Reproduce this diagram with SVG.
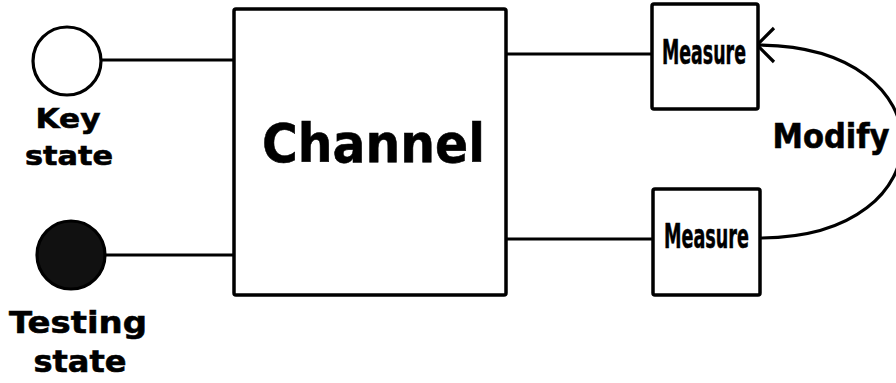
<svg xmlns="http://www.w3.org/2000/svg" width="896" height="383" viewBox="0 0 896 383">
<style>
.box{fill:#fff;stroke:#000;stroke-width:3.5;stroke-linejoin:round}
.ln{fill:none;stroke:#000;stroke-width:3.2}
.lbl{font-family:"DejaVu Sans","Liberation Sans",sans-serif;font-weight:bold;fill:#000;text-anchor:middle;stroke:#000;stroke-width:0.6}
.ms{font-family:"DejaVu Sans Condensed","Liberation Sans Narrow","DejaVu Sans",sans-serif;font-weight:bold;font-size:34px;fill:#000;stroke:#000;stroke-width:0.5}
</style>
<defs>
<marker id="chev" viewBox="0 0 20 40" refX="19" refY="20" markerWidth="20" markerHeight="40" markerUnits="userSpaceOnUse" orient="auto">
<path d="M2 3 L19 20 L2 37" fill="none" stroke="#000" stroke-width="3.2"/>
</marker>
</defs>
<g id="connectors">
<line class="ln" x1="101" y1="60" x2="234" y2="60"/>
<line class="ln" x1="106" y1="255" x2="234" y2="255"/>
<line class="ln" x1="506" y1="54" x2="652" y2="54"/>
<line class="ln" x1="506" y1="239" x2="653" y2="239"/>
<path class="ln" d="M760 238 C950 238, 950 45, 757 45" marker-end="url(#chev)"/>
</g>
<g id="key-state">
<circle cx="67" cy="61" r="34" fill="#fff" stroke="#000" stroke-width="3.2"/>
<text class="lbl" x="68" y="128" font-size="27" textLength="65" lengthAdjust="spacingAndGlyphs">Key</text>
<text class="lbl" x="69" y="165" font-size="27" textLength="88" lengthAdjust="spacingAndGlyphs">state</text>
</g>
<g id="testing-state">
<circle cx="71" cy="255" r="34" fill="#111" stroke="#000" stroke-width="3.2"/>
<text class="lbl" x="78" y="333" font-size="31" textLength="138" lengthAdjust="spacingAndGlyphs">Testing</text>
<text class="lbl" x="80" y="372" font-size="31" textLength="93" lengthAdjust="spacingAndGlyphs">state</text>
</g>
<g id="channel">
<rect class="box" x="234" y="9" width="272" height="286" rx="2"/>
<text class="lbl" x="373.5" y="162" font-size="54" textLength="223" lengthAdjust="spacingAndGlyphs">Channel</text>
</g>
<g id="measure-top">
<rect class="box" x="652" y="4" width="106" height="105" rx="2"/>
<text class="ms" x="662" y="64" textLength="84" lengthAdjust="spacingAndGlyphs">Measure</text>
</g>
<g id="measure-bottom">
<rect class="box" x="653" y="189" width="107" height="106" rx="2"/>
<text class="ms" x="664" y="248" textLength="85" lengthAdjust="spacingAndGlyphs">Measure</text>
</g>
<g id="modify-label">
<text class="lbl" x="831" y="148" font-size="34" textLength="117" lengthAdjust="spacingAndGlyphs">Modify</text>
</g>
</svg>
